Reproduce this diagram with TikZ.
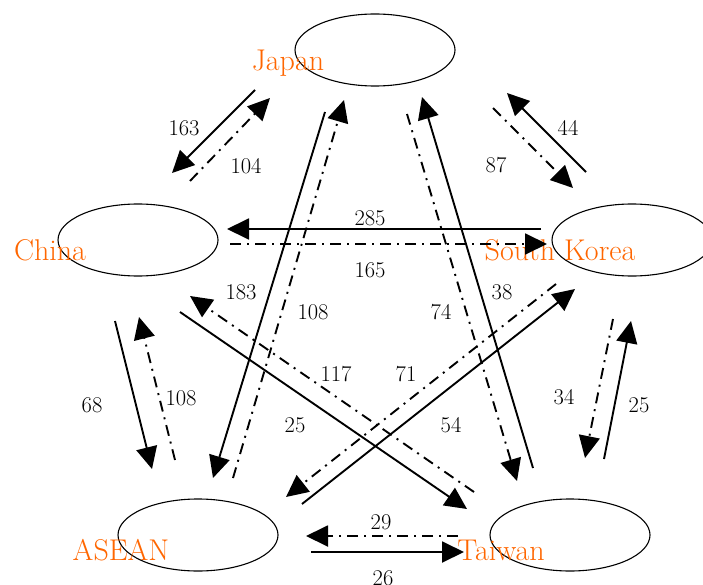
\documentclass[tikz,border=0pt]{standalone}
\usetikzlibrary{arrows.meta,shapes.geometric}
\definecolor{lblorange}{RGB}{255,102,0}
\begin{document}
\begin{tikzpicture}[x=1pt,y=-1pt,
  region/.style={draw,line width=1.1pt,ellipse,minimum width=160pt,minimum height=72pt,inner sep=0pt},
  regname/.style={text=lblorange,font=\fontsize{30}{32}\selectfont,inner sep=0pt},
  num/.style={font=\fontsize{22.5}{24}\selectfont,inner sep=0pt},
  flow/.style={line width=1.9pt,-{Triangle[length=22pt 0,width=21pt 0]}},
  solidflow/.style={flow},
  dotflow/.style={flow,dash pattern=on 11pt off 6pt on 2pt off 6pt}]
\useasboundingbox (0,0) rectangle (703,585);
% regions
\node[region] (jp) at (375,50) {};
\node[region] (cn) at (138,240) {};
\node[region] (kr) at (632,240) {};
\node[region] (as) at (198,535) {};
\node[region] (tw) at (570,535) {};
\node[regname] (jpl) at (288,63) {Japan};
\node[regname] (cnl) at (50,250) {China};
\node[regname] (krl) at (560,250) {South Korea};
\node[regname] (asl) at (121,550) {ASEAN};
\node[regname] (twl) at (501,550) {Taiwan};
% endpoints
\coordinate (a1s) at (255,90);  \coordinate (a1e) at (172,173);
\coordinate (a2s) at (190,181); \coordinate (a2e) at (270,98);
\coordinate (a3s) at (586,172); \coordinate (a3e) at (507,93);
\coordinate (a4s) at (493,108); \coordinate (a4e) at (573,188);
\coordinate (a5s) at (541,229); \coordinate (a5e) at (227,229);
\coordinate (a6s) at (230,244); \coordinate (a6e) at (547,244);
\coordinate (a7s) at (325,112); \coordinate (a7e) at (213,478);
\coordinate (a8s) at (233,478); \coordinate (a8e) at (344,100);
\coordinate (a9s) at (533,468); \coordinate (a9e) at (422,97);
\coordinate (a10s) at (407,114); \coordinate (a10e) at (517,481);
\coordinate (a11s) at (180,312); \coordinate (a11e) at (467,509);
\coordinate (a12s) at (474,492); \coordinate (a12e) at (190,296);
\coordinate (a13s) at (302,504); \coordinate (a13e) at (575,289);
\coordinate (a14s) at (556,284); \coordinate (a14e) at (286,497);
\coordinate (a15s) at (115,321); \coordinate (a15e) at (152,469);
\coordinate (a16s) at (175,460); \coordinate (a16e) at (139,317);
\coordinate (a17s) at (613,319); \coordinate (a17e) at (585,458);
\coordinate (a18s) at (604,459); \coordinate (a18e) at (631,321);
\coordinate (a19s) at (458,536); \coordinate (a19e) at (306,536);
\coordinate (a20s) at (311,552); \coordinate (a20e) at (464,552);
% flows
\draw[solidflow] (a1s) -- (a1e);
\draw[dotflow] (a2s) -- (a2e);
\draw[solidflow] (a3s) -- (a3e);
\draw[dotflow] (a4s) -- (a4e);
\draw[solidflow] (a5s) -- (a5e);
\draw[dotflow] (a6s) -- (a6e);
\draw[solidflow] (a7s) -- (a7e);
\draw[dotflow] (a8s) -- (a8e);
\draw[solidflow] (a9s) -- (a9e);
\draw[dotflow] (a10s) -- (a10e);
\draw[solidflow] (a11s) -- (a11e);
\draw[dotflow] (a12s) -- (a12e);
\draw[solidflow] (a13s) -- (a13e);
\draw[dotflow] (a14s) -- (a14e);
\draw[solidflow] (a15s) -- (a15e);
\draw[dotflow] (a16s) -- (a16e);
\draw[dotflow] (a17s) -- (a17e);
\draw[solidflow] (a18s) -- (a18e);
\draw[dotflow] (a19s) -- (a19e);
\draw[solidflow] (a20s) -- (a20e);
% numbers
\node[num] (n1) at (184,128) {163};
\node[num] (n2) at (246,166) {104};
\node[num] (n3) at (568,128) {44};
\node[num] (n4) at (496,165) {87};
\node[num] (n5) at (370,218) {285};
\node[num] (n6) at (370,270) {165};
\node[num] (n7) at (241,292) {183};
\node[num] (n8) at (313,312) {108};
\node[num] (n9) at (502,292) {38};
\node[num] (n10) at (441,312) {74};
\node[num] (n11) at (295,425) {25};
\node[num] (n12) at (336,374) {117};
\node[num] (n13) at (451,425) {54};
\node[num] (n14) at (406,374) {71};
\node[num] (n15) at (92,405) {68};
\node[num] (n16) at (181,398) {108};
\node[num] (n17) at (564,397) {34};
\node[num] (n18) at (639,405) {25};
\node[num] (n19) at (381,522) {29};
\node[num] (n20) at (383,578) {26};
\end{tikzpicture}
\end{document}
